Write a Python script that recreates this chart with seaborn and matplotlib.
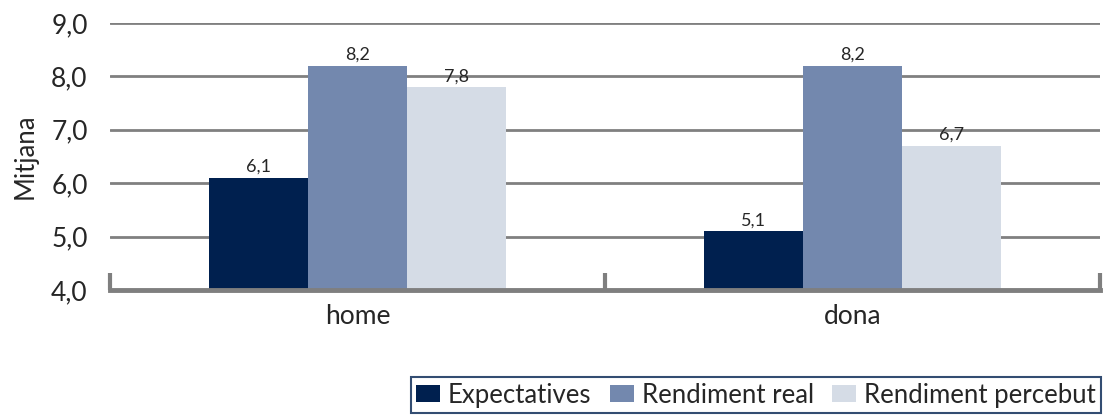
import pandas as pd
import matplotlib.pyplot as plt
import seaborn as sns
from matplotlib.ticker import FixedLocator

# Chart data
categories = ['home', 'dona']
series = ['Expectatives', 'Rendiment real', 'Rendiment percebut']
expectatives = [6.1, 5.1]
rendiment_real = [8.2, 8.2]
rendiment_percebut = [7.8, 6.7]
y_ticks = [4.0, 5.0, 6.0, 7.0, 8.0, 9.0]

colors = ['#00204f', '#7388ae', '#d5dce6']

rows = []
for name, vals in zip(series, [expectatives, rendiment_real, rendiment_percebut]):
    for cat, v in zip(categories, vals):
        rows.append({'sexe': cat, 'serie': name, 'valor': v})
df = pd.DataFrame(rows)

sns.set_style('white')
plt.rcParams['font.family'] = ['Lato', 'DejaVu Sans']

fig = plt.figure(figsize=(11.03, 4.16), dpi=100)
ax = fig.add_axes([0.0997, 0.303, 0.8973, 0.642])

sns.barplot(data=df, x='sexe', y='valor', hue='serie', palette=colors,
            width=0.6, gap=0, saturation=1, linewidth=0, edgecolor='none',
            ax=ax, legend=True)

# value labels with decimal comma
for cont in ax.containers:
    labels = [f'{b.get_height():.1f}'.replace('.', ',') for b in cont]
    ax.bar_label(cont, labels=labels, fontsize=13, padding=2)

ax.set_ylim(4.0, 9.0)
ax.set_xlim(-0.5, 1.5)
ax.set_yticks(y_ticks)
ax.set_yticklabels([f'{t:.1f}'.replace('.', ',') for t in y_ticks], fontsize=19)
ax.set_xticks(range(len(categories)))
ax.set_xticklabels(categories, fontsize=19)
ax.tick_params(axis='x', which='major', length=0, pad=10)
ax.tick_params(axis='y', length=0, pad=16)
ax.xaxis.set_minor_locator(FixedLocator([-0.5, 0.5, 1.5]))
ax.tick_params(axis='x', which='minor', bottom=True, direction='in', length=12,
               width=3, color='#7f7f7f')
ax.set_xlabel('')
ax.set_ylabel('Mitjana', fontsize=18.5, labelpad=10)

ax.yaxis.grid(True, color='#808080', linewidth=2)
ax.set_axisbelow(True)
for s in ['top', 'right', 'left']:
    ax.spines[s].set_visible(False)
ax.spines['bottom'].set_color('#7f7f7f')
ax.spines['bottom'].set_linewidth(3.5)

ax.legend_.remove()
handles, labels = ax.get_legend_handles_labels()
leg = fig.legend(handles, labels, loc='lower right', bbox_to_anchor=(0.998, 0.008),
                 ncol=3, fontsize=18.5, frameon=True, fancybox=False,
                 handlelength=0.95, handleheight=0.6, handletextpad=0.3,
                 columnspacing=0.7, borderpad=0.2, borderaxespad=0)
leg.get_frame().set_edgecolor('#00204f')
leg.get_frame().set_linewidth(1.5)

fig.savefig('out.png', dpi=100)
